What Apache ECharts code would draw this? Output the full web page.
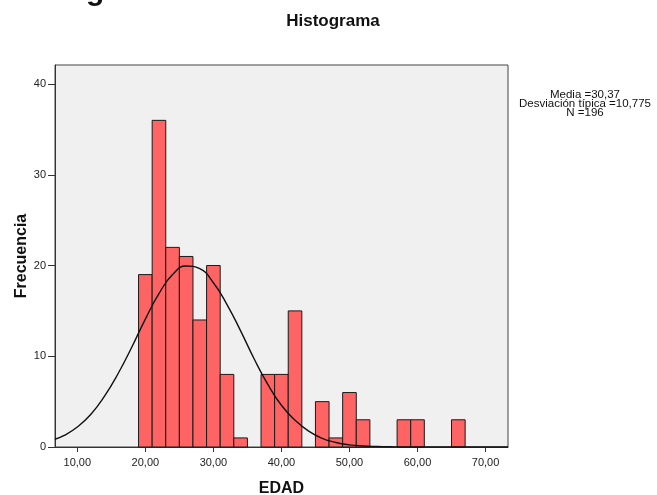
<!DOCTYPE html>
<html>
<head>
<meta charset="utf-8">
<script src="https://cdn.jsdelivr.net/npm/echarts@6/dist/echarts.min.js"></script>
<style>
  html, body { margin: 0; padding: 0; background: #fff; }
  #hist { width: 657px; height: 495px; }
</style>
</head>
<body>
<div id="hist"></div>
<script>
// bins of EDAD (width 2) and their counts
const binLow = [19, 21, 23, 25, 27, 29, 31, 33, 35, 37, 39, 41, 43, 45, 47, 49, 51, 53, 55, 57, 59, 61, 63, 65]
const binHigh = [21, 23, 25, 27, 29, 31, 33, 35, 37, 39, 41, 43, 45, 47, 49, 51, 53, 55, 57, 59, 61, 63, 65, 67]
const counts = [19, 36, 22, 21, 14, 20, 8, 1, 0, 8, 8, 15, 0, 5, 1, 6, 3, 0, 0, 3, 3, 0, 0, 3]

// normal curve
const curveX = [6.7, 8, 10, 12, 14, 16, 18, 20, 22, 24, 26, 28, 30, 32, 34, 36, 38, 40, 42, 44, 46, 48, 50, 52, 54, 56, 60, 65, 70, 73.3]
const curveY = [0.85, 1.25, 2.2, 3.6, 5.6, 8.1, 11.0, 14.1, 16.9, 19.0, 19.95, 19.65, 18.1, 15.7, 12.8, 9.7, 6.9, 4.6, 2.95, 1.75, 0.95, 0.5, 0.24, 0.11, 0.05, 0.02, 0, 0, 0, 0]

const xTicks = [10, 20, 30, 40, 50, 60, 70]
const yTicks = [0, 10, 20, 30, 40]
const statsText = ['Media =30,37', 'Desviación típica =10,775', 'N =196']

const FONT = '"Liberation Sans", Arial, sans-serif'

const barData = binLow.map((lo, i) => [lo, binHigh[i], counts[i]]).filter(d => d[2] > 0)
const curveData = curveX.map((x, i) => [x, curveY[i]])

const chart = echarts.init(document.getElementById('hist'))
chart.setOption({
  animation: false,
  backgroundColor: '#fff',
  textStyle: { fontFamily: FONT },
  title: {
    text: 'Histograma',
    left: 328,
    top: 8,
    textAlign: 'center',
    textStyle: { fontSize: 17, fontWeight: 'bold', color: '#111', fontFamily: FONT }
  },
  graphic: [
    {
      // cut off heading above the chart
      type: 'text',
      x: 86,
      y: 7,
      style: { text: 'g', fontSize: 30, fontWeight: 'bold', fontFamily: FONT, fill: '#111', verticalAlign: 'bottom' }
    },
    {
      type: 'text',
      x: 585,
      y: 90,
      style: {
        text: statsText.join('\n'),
        fontSize: 11.5,
        fontFamily: FONT,
        fill: '#111',
        align: 'center',
        verticalAlign: 'top',
        lineHeight: 9
      }
    }
  ],
  grid: {
    left: 55,
    right: 149,
    top: 65,
    bottom: 48,
    containLabel: false,
    outerBoundsMode: 'none',
    show: true,
    backgroundColor: '#f0f0f0',
    borderColor: '#444',
    borderWidth: 1
  },
  xAxis: {
    type: 'value',
    min: 6.72,
    max: 73.3,
    name: 'EDAD',
    nameLocation: 'middle',
    nameGap: 34,
    nameTextStyle: { fontSize: 16, fontWeight: 'bold', color: '#111', fontFamily: FONT },
    splitLine: { show: false },
    axisLine: { lineStyle: { color: '#333', width: 1 } },
    axisTick: { show: true, length: 5, customValues: xTicks, lineStyle: { color: '#333' } },
    axisLabel: {
      customValues: xTicks,
      margin: 10,
      fontSize: 11,
      color: '#222',
      formatter: v => v.toFixed(2).replace('.', ',')
    }
  },
  yAxis: {
    type: 'value',
    min: 0,
    max: 42.1,
    name: 'Frecuencia',
    nameLocation: 'middle',
    nameGap: 25,
    nameMoveOverlap: false,
    nameTextStyle: { fontSize: 16, fontWeight: 'bold', color: '#111', fontFamily: FONT },
    splitLine: { show: false },
    axisLine: { show: true, lineStyle: { color: '#333', width: 1 } },
    axisTick: { show: true, length: 7, customValues: yTicks, lineStyle: { color: '#333' } },
    axisLabel: { customValues: yTicks, margin: 9, fontSize: 11, color: '#222' }
  },
  series: [
    {
      type: 'custom',
      name: 'EDAD',
      data: barData,
      encode: { x: [0, 1], y: 2 },
      renderItem: function (params, api) {
        const topLeft = api.coord([api.value(0), api.value(2)])
        const bottomRight = api.coord([api.value(1), 0])
        return {
          type: 'rect',
          shape: {
            x: topLeft[0],
            y: topLeft[1],
            width: bottomRight[0] - topLeft[0],
            height: bottomRight[1] - topLeft[1]
          },
          style: { fill: '#ff6464', stroke: '#1a1a1a', lineWidth: 1 }
        }
      }
    },
    {
      type: 'line',
      name: 'Normal',
      data: curveData,
      smooth: true,
      showSymbol: false,
      clip: true,
      z: 5,
      lineStyle: { color: '#111', width: 1.4 }
    }
  ]
})
</script>
</body>
</html>
